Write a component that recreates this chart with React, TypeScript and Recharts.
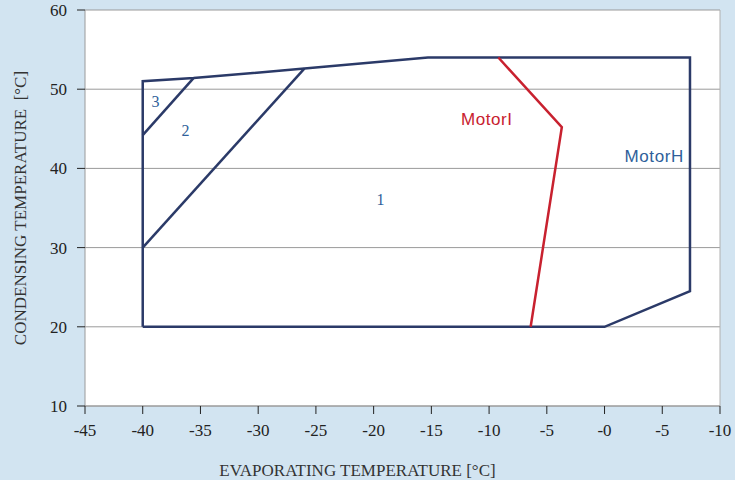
import { CartesianGrid, ComposedChart, Label, Line, ReferenceDot, ReferenceLine, XAxis, YAxis } from 'recharts'

// Envelope outline (zones 1+2+3) and the inner zone splits
const outline = [
  { x: -40, y: 20 },
  { x: -40, y: 51 },
  { x: -35.6, y: 51.4 },
  { x: -26, y: 52.6 },
  { x: -15.3, y: 54 },
  { x: 7.4, y: 54 },
  { x: 7.4, y: 24.5 },
  { x: 0, y: 20 },
  { x: -40, y: 20 },
]
const split2 = [
  { x: -40, y: 30 },
  { x: -26, y: 52.6 },
]
const split3 = [
  { x: -40, y: 44.2 },
  { x: -35.6, y: 51.4 },
]
const motorI = [
  { x: -9.2, y: 54 },
  { x: -3.7, y: 45.2 },
  { x: -6.4, y: 20 },
]

const xTicks = [-45, -40, -35, -30, -25, -20, -15, -10, -5, 0, 5, 10]
const xTickLabels = ['-45', '-40', '-35', '-30', '-25', '-20', '-15', '-10', '-5', '-0', '-5', '-10']
const yTicks = [10, 20, 30, 40, 50, 60]

const zoneLabels = [
  { text: '3', x: -38.9, y: 48.5 },
  { text: '2', x: -36.3, y: 44.8 },
  { text: '1', x: -19.4, y: 36.1 },
]

const NAVY = '#2b3a68'
const RED = '#c8212f'
const SERIF = '"Liberation Serif", "Times New Roman", serif'
const SANS = '"Liberation Sans", Arial, sans-serif'

function XTick({ x, y, payload }: any) {
  const i = xTicks.indexOf(payload.value)
  return (
    <text x={x} y={y + 20} textAnchor="middle" fontSize={17} fontFamily={SERIF} fill="#222">
      {i >= 0 ? xTickLabels[i] : payload.value}
    </text>
  )
}

function YTick({ x, y, payload }: any) {
  return (
    <text x={x - 8} y={y + 6} textAnchor="end" fontSize={17} fontFamily={SERIF} fill="#222">
      {payload.value}
    </text>
  )
}

export default function App() {
  return (
    <div style={{ position: 'fixed', left: 0, top: 0, width: 735, height: 480, background: '#d2e4f1' }}>
      <ComposedChart width={735} height={480} margin={{ top: 10, right: 15, bottom: 0, left: 0 }}>
        <CartesianGrid vertical={false} fill="#ffffff" stroke="#9a9a9a" strokeWidth={1} />
        <ReferenceLine x={10} stroke="#b0b0b0" />
        <XAxis
          type="number"
          dataKey="x"
          domain={[-45, 10]}
          ticks={xTicks}
          height={74}
          stroke="#9a9a9a"
          tickSize={8}
          tickLine={{ stroke: '#222' }}
          tick={<XTick />}
          allowDuplicatedCategory={false}
        >
          <Label
            value="EVAPORATING TEMPERATURE [°C]"
            position="insideBottom"
            offset={4}
            dx={-45}
            style={{ fontSize: 17, fill: '#333', fontFamily: SERIF }}
          />
        </XAxis>
        <YAxis
          type="number"
          domain={[10, 60]}
          ticks={yTicks}
          width={85}
          stroke="#9a9a9a"
          tickSize={8}
          tickLine={{ stroke: '#222' }}
          tick={<YTick />}
        >
          <Label
            value={'CONDENSING TEMPERATURE\u00a0\u00a0[°C]'}
            angle={-90}
            position="insideLeft"
            offset={20}
            style={{ textAnchor: 'middle', fontSize: 17, fill: '#333', fontFamily: SERIF }}
          />
        </YAxis>
        <Line data={outline} dataKey="y" stroke={NAVY} strokeWidth={2.5} dot={false} isAnimationActive={false} />
        <Line data={split2} dataKey="y" stroke={NAVY} strokeWidth={2.5} dot={false} isAnimationActive={false} />
        <Line data={split3} dataKey="y" stroke={NAVY} strokeWidth={2.5} dot={false} isAnimationActive={false} />
        <Line data={motorI} dataKey="y" stroke={RED} strokeWidth={2.5} dot={false} isAnimationActive={false} />
        {zoneLabels.map((z) => (
          <ReferenceDot
            key={z.text}
            x={z.x}
            y={z.y}
            r={0}
            stroke="none"
            label={{ value: z.text, position: 'center', fontSize: 16, fill: '#2f5f9a', fontFamily: SERIF }}
          />
        ))}
        <ReferenceDot
          x={-10.2}
          y={46.2}
          r={0}
          stroke="none"
          label={{ value: 'MotorI', position: 'center', fontSize: 17, letterSpacing: 0.6, fill: RED, fontFamily: SANS }}
        />
        <ReferenceDot
          x={4.3}
          y={41.6}
          r={0}
          stroke="none"
          label={{ value: 'MotorH', position: 'center', fontSize: 17, letterSpacing: 0.6, fill: '#2f5f9a', fontFamily: SANS }}
        />
      </ComposedChart>
    </div>
  )
}
